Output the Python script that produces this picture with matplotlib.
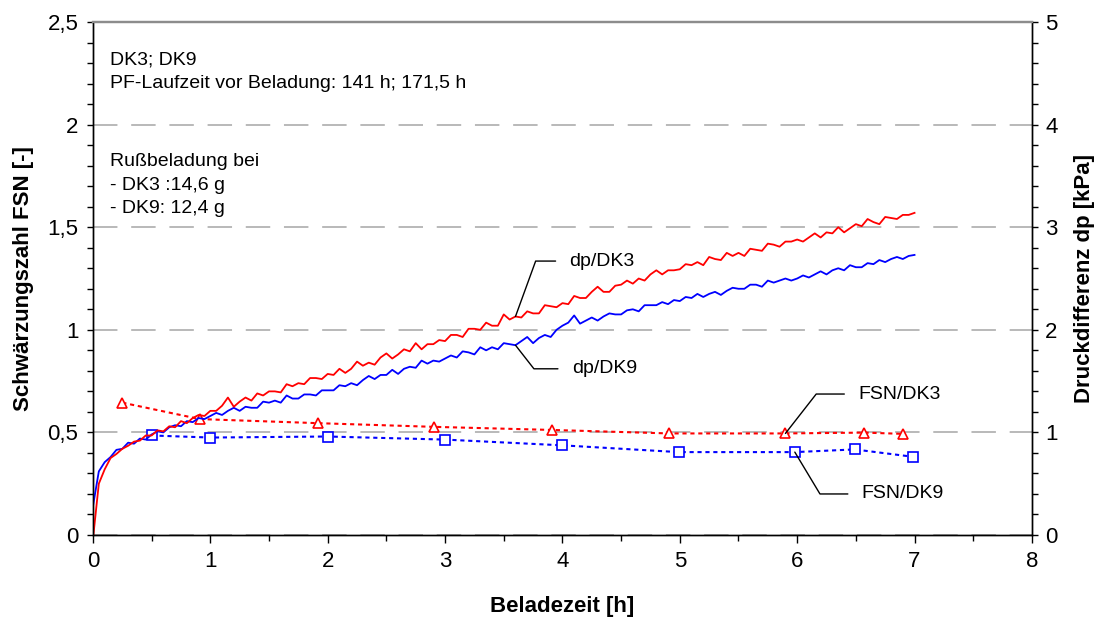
#!/usr/bin/python
# -*- coding: utf-8 -*-

import numpy as np
import matplotlib
matplotlib.use('Agg')
import matplotlib.pyplot as plt
from matplotlib.ticker import MultipleLocator, FuncFormatter

plt.rcParams['font.family'] = ['Liberation Sans', 'DejaVu Sans']

###############################################################################
# Data
###############################################################################
# logger samples every 3 min (0.05 h), 0 ... 7 h
dpTime = np.linspace(0.0, 7.0, 141)
dpDK3 = [
    -0.04, 0.50, 0.64, 0.75, 0.79, 0.84, 0.87, 0.91, 0.92, 0.97,
    0.97, 1.02, 1.01, 1.06, 1.05, 1.11, 1.09, 1.14, 1.17, 1.16,
    1.21, 1.21, 1.26, 1.34, 1.25, 1.30, 1.34, 1.31, 1.38, 1.36,
    1.40, 1.40, 1.39, 1.47, 1.45, 1.48, 1.47, 1.53, 1.53, 1.52,
    1.57, 1.56, 1.62, 1.58, 1.62, 1.69, 1.65, 1.68, 1.66, 1.73,
    1.77, 1.72, 1.76, 1.81, 1.79, 1.87, 1.81, 1.86, 1.86, 1.90,
    1.89, 1.95, 1.95, 1.93, 2.01, 2.01, 2.00, 2.07, 2.04, 2.04,
    2.15, 2.10, 2.13, 2.12, 2.18, 2.16, 2.16, 2.24, 2.23, 2.22,
    2.26, 2.25, 2.33, 2.31, 2.31, 2.37, 2.42, 2.37, 2.37, 2.43,
    2.44, 2.48, 2.45, 2.50, 2.48, 2.54, 2.58, 2.54, 2.58, 2.58,
    2.59, 2.64, 2.63, 2.66, 2.63, 2.71, 2.69, 2.68, 2.75, 2.72,
    2.75, 2.72, 2.79, 2.78, 2.77, 2.84, 2.83, 2.81, 2.86, 2.86,
    2.88, 2.86, 2.90, 2.94, 2.90, 2.95, 2.94, 3.00, 2.95, 2.99,
    3.03, 3.01, 3.08, 3.05, 3.03, 3.10, 3.09, 3.08, 3.12, 3.12,
    3.14
]
dpDK9 = [
    0.28, 0.62, 0.71, 0.76, 0.83, 0.84, 0.90, 0.89, 0.94, 0.93,
    0.98, 1.01, 1.00, 1.05, 1.07, 1.06, 1.11, 1.10, 1.14, 1.13,
    1.16, 1.19, 1.17, 1.21, 1.24, 1.21, 1.25, 1.24, 1.24, 1.30,
    1.29, 1.31, 1.29, 1.36, 1.33, 1.33, 1.37, 1.37, 1.36, 1.41,
    1.41, 1.41, 1.46, 1.45, 1.48, 1.46, 1.51, 1.55, 1.52, 1.56,
    1.56, 1.61, 1.57, 1.62, 1.64, 1.63, 1.70, 1.67, 1.70, 1.69,
    1.72, 1.75, 1.73, 1.79, 1.78, 1.76, 1.83, 1.80, 1.83, 1.81,
    1.87, 1.86, 1.85, 1.89, 1.93, 1.87, 1.92, 1.95, 1.93, 2.00,
    2.04, 2.07, 2.14, 2.06, 2.09, 2.12, 2.09, 2.13, 2.16, 2.15,
    2.15, 2.19, 2.20, 2.18, 2.24, 2.24, 2.24, 2.27, 2.25, 2.29,
    2.28, 2.32, 2.31, 2.35, 2.32, 2.35, 2.37, 2.34, 2.38, 2.41,
    2.40, 2.40, 2.44, 2.44, 2.42, 2.48, 2.46, 2.48, 2.50, 2.48,
    2.50, 2.53, 2.51, 2.54, 2.57, 2.54, 2.58, 2.60, 2.58, 2.63,
    2.61, 2.61, 2.65, 2.64, 2.68, 2.66, 2.69, 2.71, 2.69, 2.72,
    2.73
]

fsnTimeDK3 = [0.25, 0.91, 1.92, 2.91, 3.91, 4.91, 5.90, 6.57, 6.90]
fsnDK3 = [0.645, 0.565, 0.545, 0.527, 0.512, 0.495, 0.495, 0.499, 0.493]
fsnTimeDK9 = [0.50, 1.00, 2.00, 3.00, 4.00, 4.99, 5.98, 6.49, 6.99]
fsnDK9 = [0.485, 0.475, 0.480, 0.465, 0.437, 0.404, 0.404, 0.417, 0.381]

infoTop = ['DK3; DK9', 'PF-Laufzeit vor Beladung: 141 h; 171,5 h']
infoLoad = ['Rußbeladung bei', '- DK3 :14,6 g', '- DK9: 12,4 g']

###############################################################################
# Figure
###############################################################################
(RED, BLUE, GRID) = ('#ff0000', '#0000ff', '#a6a6a6')
(TICKFS, LABELFS, TEXTFS) = (16, 16, 14)
fig = plt.figure(figsize=(11, 6.17), dpi=100)
ax = fig.add_axes([0.0845, 0.1329, 0.8536, 0.8314])
ax2 = ax.twinx()

comma = FuncFormatter(lambda v, p: '{:g}'.format(round(v, 2)).replace('.', ','))

ax.set_xlim(0, 8)
ax.set_ylim(0, 2.5)
ax2.set_ylim(0, 5)
ax.xaxis.set_major_locator(MultipleLocator(1))
ax.xaxis.set_minor_locator(MultipleLocator(0.5))
ax.yaxis.set_major_locator(MultipleLocator(0.5))
ax.yaxis.set_minor_locator(MultipleLocator(0.1))
ax2.yaxis.set_major_locator(MultipleLocator(1))
ax2.yaxis.set_minor_locator(MultipleLocator(0.2))
ax.yaxis.set_major_formatter(comma)
ax2.yaxis.set_major_formatter(comma)

ax.tick_params(axis='y', which='both', direction='out', length=4.5,
               width=1, labelsize=TICKFS, pad=6)
ax.tick_params(axis='x', which='major', direction='out', length=5.5,
               width=1, labelsize=TICKFS, pad=6)
ax.tick_params(axis='x', which='minor', direction='out', length=4.5, width=1)
ax2.tick_params(axis='y', which='both', direction='out', length=4.5,
                width=1, labelsize=TICKFS, pad=5)

for a in (ax, ax2):
    for s in ('left', 'right', 'bottom'):
        a.spines[s].set_color('black')
        a.spines[s].set_linewidth(1.0)
    a.spines['top'].set_color('#8c8c8c')
    a.spines['top'].set_linewidth(1.6)

ax.yaxis.grid(True, which='major', color=GRID, linestyle=(0, (16, 9)),
              linewidth=1.1)
ax.set_axisbelow(True)

# FSN measurements (left axis)
ax.plot(fsnTimeDK3, fsnDK3, color=RED, linestyle=(0, (2, 1.8)), lw=1.5,
        marker='^', markersize=7.5, markerfacecolor='white',
        markeredgecolor=RED, markeredgewidth=1.2, zorder=3)
ax.plot(fsnTimeDK9, fsnDK9, color=BLUE, linestyle=(0, (2, 1.8)), lw=1.5,
        marker='s', markersize=7, markerfacecolor='white',
        markeredgecolor=BLUE, markeredgewidth=1.2, zorder=3)

# pressure drop (right axis)
ax2.plot(dpTime, dpDK9, color=BLUE, lw=1.3)
ax2.plot(dpTime, dpDK3, color=RED, lw=1.3)

###############################################################################
# Labels and annotations
###############################################################################
ax.set_xlabel('Beladezeit [h]', fontsize=LABELFS, fontweight='bold')
ax.set_ylabel('Schwärzungszahl FSN [-]', fontsize=LABELFS, fontweight='bold')
ax2.set_ylabel('Druckdifferenz dp [kPa]', fontsize=LABELFS, fontweight='bold')
ax.xaxis.set_label_coords(0.5, -0.119)
ax.yaxis.set_label_coords(-0.0628, 0.5)
ax2.yaxis.set_label_coords(1.0447, 0.5)

ax.text(0.018, 0.9435, '\n'.join(infoTop), transform=ax.transAxes,
        fontsize=TEXTFS, va='top', ha='left', linespacing=1.52)
ax.text(0.018, 0.745, '\n'.join(infoLoad), transform=ax.transAxes,
        fontsize=TEXTFS, va='top', ha='left', linespacing=1.52)


def leader(axis, label, xy, xytext, angle):
    axis.annotate(
            label, xy=xy, xytext=xytext, fontsize=TEXTFS,
            ha='left', va='center',
            arrowprops=dict(
                arrowstyle='-', color='black', lw=1.0,
                relpos=(0, 0.5), shrinkA=8, shrinkB=0,
                connectionstyle='angle,angleA=0,angleB={}'.format(angle)
            )
        )


k = 72
leader(ax2, 'dp/DK3', (dpTime[k], dpDK3[k]), (4.06, 2.67), 70)
leader(ax2, 'dp/DK9', (dpTime[k], dpDK9[k]), (4.08, 1.62), -52)
leader(ax, 'FSN/DK3', (fsnTimeDK3[6], fsnDK3[6]), (6.52, 0.687), 52)
leader(ax, 'FSN/DK9', (fsnTimeDK9[6], fsnDK9[6]), (6.55, 0.20), -59)

fig.savefig('out.png', dpi=100)
